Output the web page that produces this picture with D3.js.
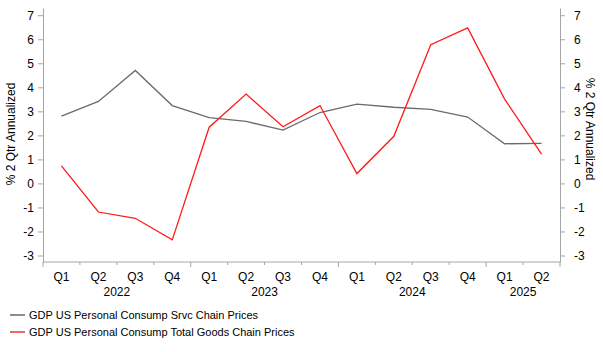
<!DOCTYPE html>
<html>
<head>
<meta charset="utf-8">
<script src="https://cdn.jsdelivr.net/npm/d3@7"></script>
<style>
  body { margin: 0; background: #fff; }
  svg { font-family: Arial, "Liberation Sans", sans-serif; }
</style>
</head>
<body>
<div id="chart"></div>
<script>
// Data
// ==============================
var quarters = ["Q1", "Q2", "Q3", "Q4", "Q1", "Q2", "Q3", "Q4", "Q1", "Q2", "Q3", "Q4", "Q1", "Q2"];
var years = ["2022", "2022", "2022", "2022", "2023", "2023", "2023", "2023", "2024", "2024", "2024", "2024", "2025", "2025"];
var services = [2.8, 3.41, 4.7, 3.24, 2.74, 2.58, 2.22, 2.95, 3.3, 3.17, 3.08, 2.76, 1.65, 1.67];
var goods = [0.73, -1.19, -1.45, -2.35, 2.34, 3.72, 2.36, 3.24, 0.41, 1.96, 5.77, 6.47, 3.51, 1.22];
var yTicks = [-3, -2, -1, 0, 1, 2, 3, 4, 5, 6, 7];
var seriesNames = ["GDP US Personal Consump Srvc Chain Prices", "GDP US Personal Consump Total Goods Chain Prices"];

var svgWidth = 603;
var svgHeight = 352;

var margin = { top: 8, right: 43, bottom: 90, left: 43 };
var width = svgWidth - margin.left - margin.right;
var height = svgHeight - margin.top - margin.bottom;

var svg = d3.select("#chart")
  .append("svg")
  .attr("width", svgWidth)
  .attr("height", svgHeight);

var chartGroup = svg.append("g")
  .attr("transform", `translate(${margin.left}, ${margin.top})`);

var idx = quarters.map((q, i) => i);

// Scales
// ==============================
var xScale = d3.scaleBand()
  .domain(idx)
  .range([0, width]);

var yScale = d3.scaleLinear()
  .domain([-3.27, 7.3])
  .range([height, 0]);

var axisColor = "#a6a6a6";
var fontSize = "11px";

// Y axes (left + right)
// ==============================
var leftAxis = d3.axisLeft(yScale).tickValues(yTicks).tickSize(5).tickSizeOuter(0).tickPadding(4)
  .tickFormat(d => String(d));
var rightAxis = d3.axisRight(yScale).tickValues(yTicks).tickSize(5).tickSizeOuter(0).tickPadding(9)
  .tickFormat(d => String(d));

function styleAxis(g) {
  g.select(".domain").attr("stroke", axisColor);
  g.selectAll(".tick line").attr("stroke", axisColor);
  g.selectAll("text").attr("fill", "#000").style("font-size", "12px");
}

chartGroup.append("g").call(leftAxis).call(styleAxis);
chartGroup.append("g")
  .attr("transform", `translate(${width}, 0)`)
  .call(rightAxis).call(styleAxis);

// X axis with quarter + year labels
// ==============================
var xAxisGroup = chartGroup.append("g")
  .attr("transform", `translate(0, ${height})`);

xAxisGroup.append("line")
  .attr("x1", 0).attr("x2", width)
  .attr("y1", 0).attr("y2", 0)
  .attr("stroke", axisColor);

// tick marks at band edges, longer at year breaks
d3.range(quarters.length + 1).forEach(function(i) {
  var x = i < quarters.length ? xScale(i) : width;
  var yearBreak = (i % 4 === 0) || i === quarters.length;
  xAxisGroup.append("line")
    .attr("x1", x).attr("x2", x)
    .attr("y1", 0).attr("y2", yearBreak ? 5 : 3)
    .attr("stroke", axisColor);
});

xAxisGroup.selectAll(".qlabel")
  .data(idx)
  .enter()
  .append("text")
  .attr("x", d => xScale(d) + xScale.bandwidth() / 2)
  .attr("y", 19)
  .attr("text-anchor", "middle")
  .style("font-size", "12px")
  .text(d => quarters[d]);

var yearGroups = d3.groups(idx, d => years[d]);
xAxisGroup.selectAll(".ylabel")
  .data(yearGroups)
  .enter()
  .append("text")
  .attr("x", d => {
    var first = d[1][0], last = d[1][d[1].length - 1];
    return (xScale(first) + xScale(last) + xScale.bandwidth()) / 2;
  })
  .attr("y", 34)
  .attr("text-anchor", "middle")
  .style("font-size", "12px")
  .text(d => d[0]);

// Axis titles
// ==============================
chartGroup.append("text")
  .attr("transform", `translate(${-28}, ${134 - margin.top}) rotate(-90)`)
  .attr("text-anchor", "middle")
  .style("font-size", "12px")
  .text("% 2 Qtr Annualized");

chartGroup.append("text")
  .attr("transform", `translate(${width + 26}, ${129 - margin.top}) rotate(90)`)
  .attr("text-anchor", "middle")
  .style("font-size", "12px")
  .text("% 2 Qtr Annualized");

// Lines
// ==============================
var line = d3.line()
  .x((d, i) => xScale(i) + xScale.bandwidth() / 2)
  .y(d => yScale(d));

chartGroup.append("path")
  .datum(services)
  .attr("fill", "none")
  .attr("stroke", "#6b6b6b")
  .attr("stroke-width", 1.3)
  .attr("d", line);

chartGroup.append("path")
  .datum(goods)
  .attr("fill", "none")
  .attr("stroke", "#ff1a1a")
  .attr("stroke-width", 1.3)
  .attr("d", line);

// Legend
// ==============================
var legendColors = ["#404040", "#e00000"];
var legend = svg.append("g")
  .attr("transform", "translate(10, 315)");

seriesNames.forEach(function(name, i) {
  var row = legend.append("g").attr("transform", `translate(0, ${i * 17})`);
  row.append("line")
    .attr("x1", 0).attr("x2", 15)
    .attr("y1", 0).attr("y2", 0)
    .attr("stroke", legendColors[i])
    .attr("stroke-width", 1.2);
  row.append("text")
    .attr("x", 19)
    .attr("y", 4)
    .style("font-size", fontSize)
    .text(name);
});
</script>
</body>
</html>
